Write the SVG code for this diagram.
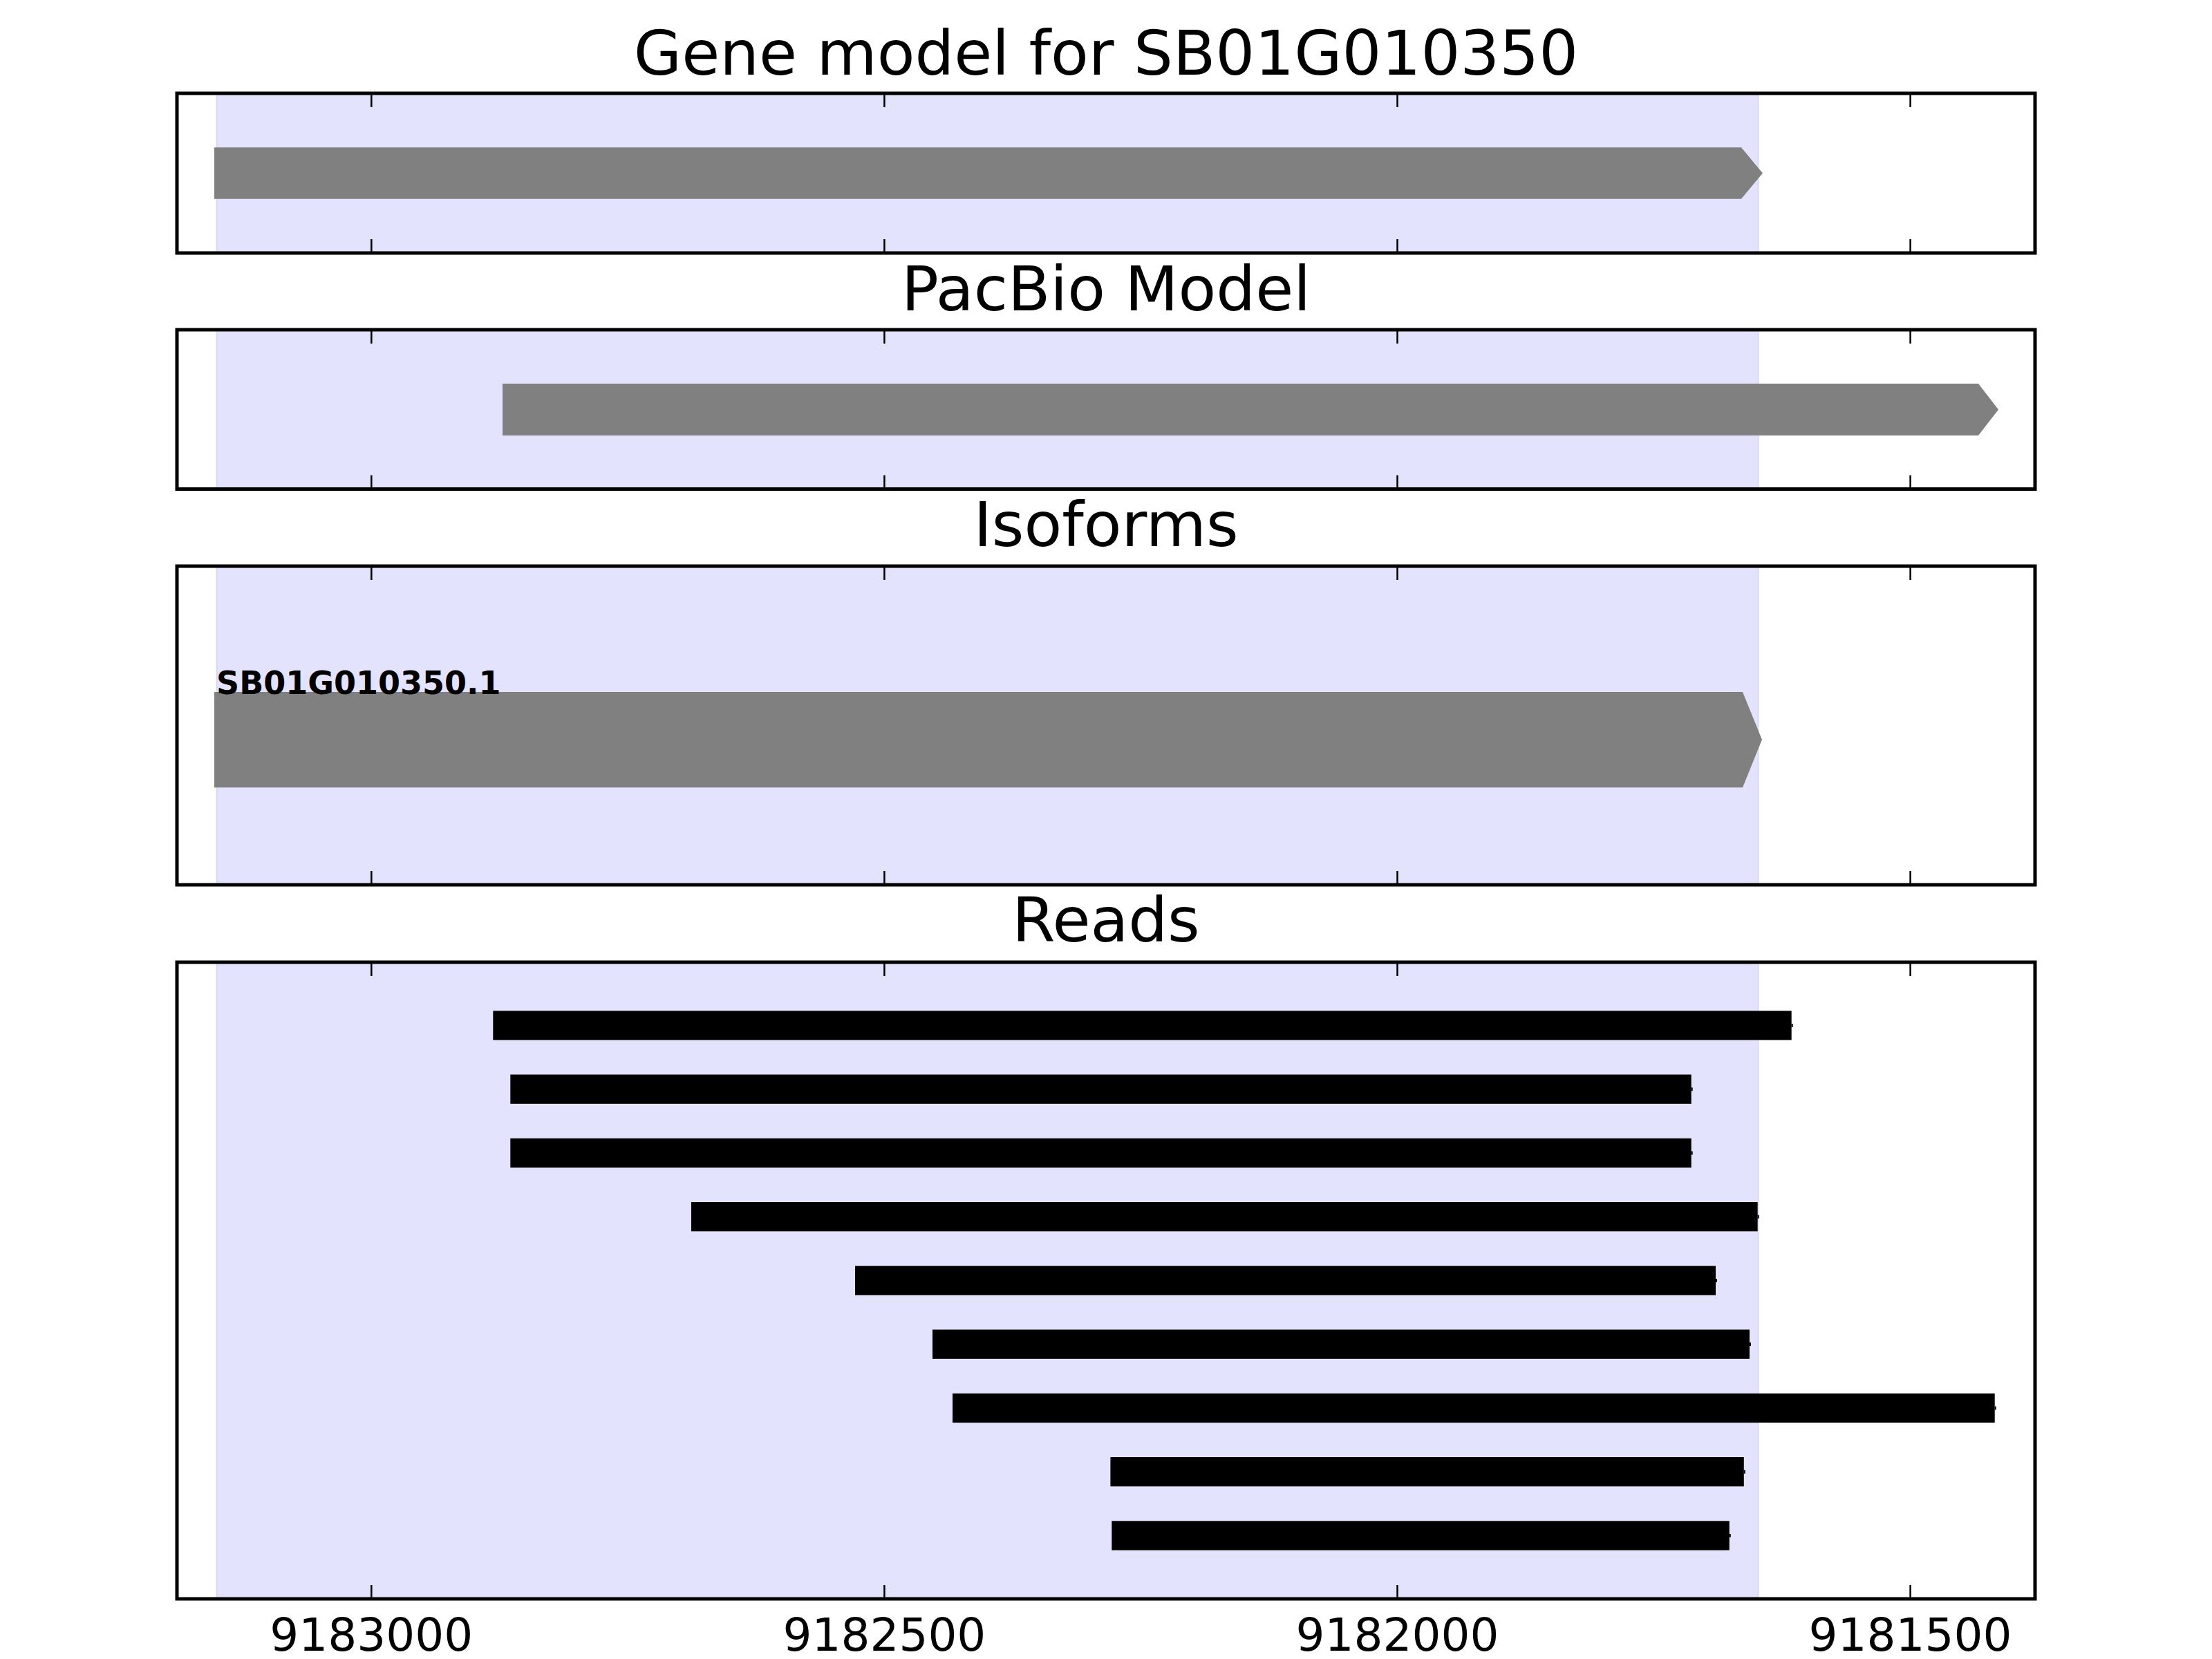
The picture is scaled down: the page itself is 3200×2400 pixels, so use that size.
<svg xmlns="http://www.w3.org/2000/svg" width="3200" height="2400" viewBox="0 0 3200 2400">
<style>
.title{font-family:"DejaVu Sans","Liberation Sans",sans-serif;font-size:89.5px;fill:#000;text-anchor:middle}
.tick-label{font-family:"DejaVu Sans","Liberation Sans",sans-serif;font-size:66px;fill:#000;text-anchor:middle}
.iso-label{font-family:"DejaVu Sans","Liberation Sans",sans-serif;font-size:46px;font-weight:bold;fill:#000}
.frame{fill:none;stroke:#000;stroke-width:5}
.shade{fill:#E3E3FE;stroke:#D8D8EE;stroke-width:2}
.gene{fill:#808080}
.read{fill:#000}
.tick{stroke:#000;stroke-width:2.5}
</style>
<rect x="0" y="0" width="3200" height="2400" fill="#fff"/>

<g id="panel-gene-model">
  <text class="title" x="1600" y="108">Gene model for SB01G010350</text>
  <rect class="shade" x="313.5" y="135" width="2230" height="231"/>
  <polygon class="gene" points="310,213.3 2519,213.3 2550,250.5 2519,287.7 310,287.7"/>
  <g class="tick">
    <line x1="537.3" y1="135" x2="537.3" y2="155"/><line x1="537.3" y1="366" x2="537.3" y2="346"/>
    <line x1="1279.4" y1="135" x2="1279.4" y2="155"/><line x1="1279.4" y1="366" x2="1279.4" y2="346"/>
    <line x1="2021.5" y1="135" x2="2021.5" y2="155"/><line x1="2021.5" y1="366" x2="2021.5" y2="346"/>
    <line x1="2763.6" y1="135" x2="2763.6" y2="155"/><line x1="2763.6" y1="366" x2="2763.6" y2="346"/>
  </g>
  <rect class="frame" x="256" y="135" width="2688" height="231"/>
</g>

<g id="panel-pacbio-model">
  <text class="title" x="1600" y="449">PacBio Model</text>
  <rect class="shade" x="313.5" y="477" width="2230" height="230.5"/>
  <polygon class="gene" points="727,555 2862,555 2891,592.5 2862,630 727,630"/>
  <g class="tick">
    <line x1="537.3" y1="477" x2="537.3" y2="497"/><line x1="537.3" y1="707.5" x2="537.3" y2="687.5"/>
    <line x1="1279.4" y1="477" x2="1279.4" y2="497"/><line x1="1279.4" y1="707.5" x2="1279.4" y2="687.5"/>
    <line x1="2021.5" y1="477" x2="2021.5" y2="497"/><line x1="2021.5" y1="707.5" x2="2021.5" y2="687.5"/>
    <line x1="2763.6" y1="477" x2="2763.6" y2="497"/><line x1="2763.6" y1="707.5" x2="2763.6" y2="687.5"/>
  </g>
  <rect class="frame" x="256" y="477" width="2688" height="230.5"/>
</g>

<g id="panel-isoforms">
  <text class="title" x="1600" y="790">Isoforms</text>
  <rect class="shade" x="313.5" y="819" width="2230" height="461"/>
  <polygon class="gene" points="310,1001 2521,1001 2549,1070 2521,1139.3 310,1139.3"/>
  <text class="iso-label" x="313" y="1004">SB01G010350.1</text>
  <g class="tick">
    <line x1="537.3" y1="819" x2="537.3" y2="839"/><line x1="537.3" y1="1280" x2="537.3" y2="1260"/>
    <line x1="1279.4" y1="819" x2="1279.4" y2="839"/><line x1="1279.4" y1="1280" x2="1279.4" y2="1260"/>
    <line x1="2021.5" y1="819" x2="2021.5" y2="839"/><line x1="2021.5" y1="1280" x2="2021.5" y2="1260"/>
    <line x1="2763.6" y1="819" x2="2763.6" y2="839"/><line x1="2763.6" y1="1280" x2="2763.6" y2="1260"/>
  </g>
  <rect class="frame" x="256" y="819" width="2688" height="461"/>
</g>

<g id="panel-reads">
  <text class="title" x="1600" y="1362">Reads</text>
  <rect class="shade" x="313.5" y="1392" width="2230" height="921"/>
  <g id="read-1"><rect class="read" x="713.3" y="1462.3" width="1878.4" height="42.3"/><rect class="read" x="2591.7" y="1481" width="2" height="5"/></g>
  <g id="read-2"><rect class="read" x="738.3" y="1554.5" width="1708.4" height="42.3"/><rect class="read" x="2446.7" y="1573.2" width="2" height="5"/></g>
  <g id="read-3"><rect class="read" x="738.3" y="1646.8" width="1708.4" height="42.3"/><rect class="read" x="2446.7" y="1665.5" width="2" height="5"/></g>
  <g id="read-4"><rect class="read" x="1000" y="1739" width="1542.7" height="42.3"/><rect class="read" x="2542.7" y="1757.7" width="2" height="5"/></g>
  <g id="read-5"><rect class="read" x="1237" y="1831.3" width="1245" height="42.3"/><rect class="read" x="2482" y="1850" width="2" height="5"/></g>
  <g id="read-6"><rect class="read" x="1349" y="1923.5" width="1182" height="42.3"/><rect class="read" x="2531" y="1942.2" width="2" height="5"/></g>
  <g id="read-7"><rect class="read" x="1378" y="2015.8" width="1507.7" height="42.3"/><rect class="read" x="2885.7" y="2034.5" width="2" height="5"/></g>
  <g id="read-8"><rect class="read" x="1606.4" y="2108" width="916.4" height="42.3"/><rect class="read" x="2522.8" y="2126.7" width="2" height="5"/></g>
  <g id="read-9"><rect class="read" x="1608.3" y="2200.3" width="893.5" height="42.3"/><rect class="read" x="2501.8" y="2219" width="2" height="5"/></g>
  <g class="tick">
    <line x1="537.3" y1="1392" x2="537.3" y2="1412"/><line x1="537.3" y1="2313" x2="537.3" y2="2293"/>
    <line x1="1279.4" y1="1392" x2="1279.4" y2="1412"/><line x1="1279.4" y1="2313" x2="1279.4" y2="2293"/>
    <line x1="2021.5" y1="1392" x2="2021.5" y2="1412"/><line x1="2021.5" y1="2313" x2="2021.5" y2="2293"/>
    <line x1="2763.6" y1="1392" x2="2763.6" y2="1412"/><line x1="2763.6" y1="2313" x2="2763.6" y2="2293"/>
  </g>
  <rect class="frame" x="256" y="1392" width="2688" height="921"/>
  <text class="tick-label" x="537.3" y="2388">9183000</text>
  <text class="tick-label" x="1279.4" y="2388">9182500</text>
  <text class="tick-label" x="2021.5" y="2388">9182000</text>
  <text class="tick-label" x="2763.6" y="2388">9181500</text>
</g>
<g id="connectors"></g>
</svg>
